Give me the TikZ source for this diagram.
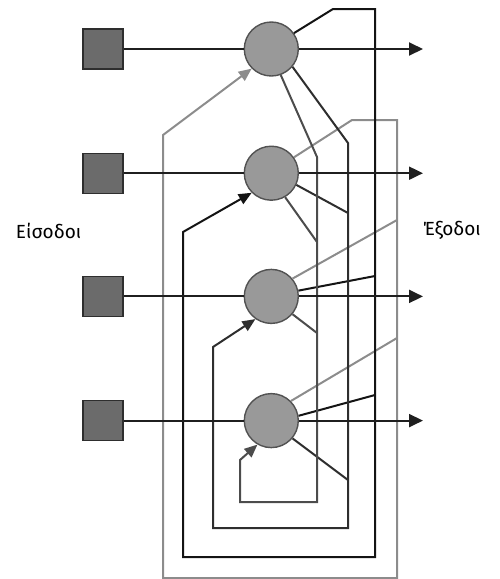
\documentclass[tikz,border=0pt]{standalone}
\usepackage{fontspec}
\setsansfont{Fira Sans}
\usetikzlibrary{arrows.meta,positioning}

\begin{document}
\begin{tikzpicture}[
    x=1pt, y=-1pt,
    font=\sffamily\fontsize{19}{22}\selectfont,
    line width=2pt,
    inbox/.style={draw=black!82, fill=black!58, line width=1.2pt, minimum size=40pt, inner sep=0pt},
    neuron/.style={circle, draw=black!68, fill=black!40, line width=1.4pt, minimum size=54pt, inner sep=0pt},
    wire/.style={black!88},
    outarrow/.style={-{Triangle[length=14pt,width=13pt]}, black!88},
    fb/.style={-{Triangle[length=13pt,width=11pt]}},
    busA/.style={black!45},
    busB/.style={black!92},
    busC/.style={black!82},
    busD/.style={black!70}
]
    \useasboundingbox (0,0) rectangle (499,579);

    % inputs and neurons
    \node[inbox] (in1) at (103,49) {};
    \node[inbox, below=83pt of in1] (in2) {};
    \node[inbox, below=82pt of in2] (in3) {};
    \node[inbox, below=83pt of in3] (in4) {};

    \node[neuron, right=120pt of in1] (n1) {};
    \node[neuron, right=120pt of in2] (n2) {};
    \node[neuron, right=120pt of in3] (n3) {};
    \node[neuron, right=120pt of in4] (n4) {};

    \coordinate[right=124pt of n1] (o1);
    \coordinate[right=124pt of n2] (o2);
    \coordinate[right=124pt of n3] (o3);
    \coordinate[right=124pt of n4] (o4);

    \node[anchor=west, inner sep=0pt] (inlabel) at (15,231) {Είσοδοι};
    \node[anchor=west, inner sep=0pt] (outlabel) at (422,230) {Έξοδοι};

    % feedback into n1
    \draw[busA, fb] (n2.35) -- (352,120) -- (397,120) -- (397,578) -- (163,578) -- (163,135) -- (n1.225);
    \draw[busA] (n3.40) -- (397,220);
    \draw[busA] (n4.45) -- (397,338);

    % feedback into n2
    \draw[busB, fb] (n1.35) -- (333,9) -- (375,9) -- (375,557) -- (183,557) -- (183,232) -- (n2.225);
    \draw[busB] (n3.12) -- (375,276);
    \draw[busB] (n4.10) -- (375,395);

    % feedback into n3
    \draw[busC, fb] (n1.-40) -- (348,143) -- (348,528) -- (213,528) -- (213,347) -- (n3.235);
    \draw[busC] (n2.-25) -- (348,213);
    \draw[busC] (n4.-40) -- (348,480);

    % feedback into n4
    \draw[busD, fb] (n1.-70) -- (317,157) -- (317,502) -- (240,502) -- (240,460) -- (n4.240);
    \draw[busD] (n2.-60) -- (317,242);
    \draw[busD] (n3.-40) -- (317,333);

    % straight through
    \draw[wire] (in1) -- (n1);
    \draw[wire] (in2) -- (n2);
    \draw[wire] (in3) -- (n3);
    \draw[wire] (in4) -- (n4);
    \draw[outarrow] (n1) -- (o1);
    \draw[outarrow] (n2) -- (o2);
    \draw[outarrow] (n3) -- (o3);
    \draw[outarrow] (n4) -- (o4);
\end{tikzpicture}
\end{document}
